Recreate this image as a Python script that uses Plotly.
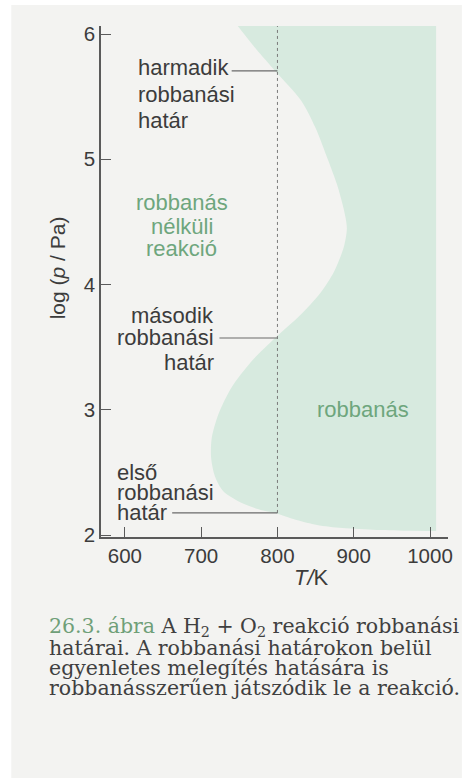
import plotly.graph_objects as go

# Explosion region of the H2 + O2 reaction: left boundary (T in K, log p/Pa), top to bottom
boundary_logp = [6.064, 5.88, 5.705, 5.47, 5.25, 5.0, 4.8, 4.6, 4.45, 4.3, 4.1,
                 3.93, 3.75, 3.573, 3.38, 3.18, 2.97, 2.78, 2.62, 2.47, 2.35,
                 2.26, 2.20, 2.176, 2.12, 2.08, 2.055, 2.04, 2.034, 2.032]
boundary_T = [748, 772, 797, 831, 850, 866, 878, 887, 891, 887, 874,
              856, 829, 797, 765, 740, 723, 714, 713, 718, 729,
              752, 778, 797, 825, 852, 885, 930, 975, 1008]
right_edge_T = [1008, 1008]
right_edge_logp = [6.064, 2.032]

# Explosion limits at T = 800 K
limit_T = 800
first_limit = 2.176
second_limit = 3.573
third_limit = 5.705

x_ticks = [600, 700, 800, 900, 1000]
y_ticks = [2, 3, 4, 5, 6]
x_range = [568.7, 1023.6]
y_range = [1.984, 6.064]

DARK = "#3c3c3c"
GREEN = "#6ea67d"
FILL = "#d7eadf"
LINE = "#5a5a5a"
SANS = "Liberation Sans, Arial, sans-serif"
SERIF = "DejaVu Serif, serif"

fig = go.Figure()

# right edge of the region (straight), then the curved boundary filled towards it
fig.add_trace(go.Scatter(x=right_edge_T, y=right_edge_logp, mode="lines",
                         line=dict(width=0, color=FILL), hoverinfo="skip"))
fig.add_trace(go.Scatter(x=boundary_T, y=boundary_logp, mode="lines",
                         line=dict(width=0, color=FILL, shape="spline", smoothing=0.8),
                         fill="tonextx", fillcolor=FILL, hoverinfo="skip"))

# dotted guide at 800 K
fig.add_trace(go.Scatter(x=[limit_T, limit_T], y=[first_limit, y_range[1]], mode="lines",
                         line=dict(color="#7a7a7a", width=1, dash="dot"), hoverinfo="skip"))

# leader lines from the labels to the three limits
leaders = [(740, third_limit), (724, second_limit), (662, first_limit)]
for x0, yv in leaders:
    fig.add_trace(go.Scatter(x=[x0, limit_T], y=[yv, yv], mode="lines",
                             line=dict(color="#6a6a6a", width=1.2), hoverinfo="skip"))

ann = []

def label(x, y, text, color=DARK, anchor="left", size=22):
    ann.append(dict(x=x, y=y, xref="x", yref="y", text=text, showarrow=False,
                    xanchor=anchor, yanchor="middle",
                    font=dict(family=SANS, size=size, color=color)))

for yv, t in zip([5.729, 5.521, 5.313], ["harmadik", "robbanási", "határ"]):
    label(614, yv, t)
for yv, t in zip([4.651, 4.467, 4.291], ["robbanás", "nélküli", "reakció"]):
    label(674.6, yv, t, color=GREEN, anchor="center")
for yv, t in zip([3.756, 3.573, 3.381], ["második", "robbanási", "határ"]):
    label(719, yv, t, anchor="right")
for yv, t in zip([2.503, 2.343, 2.176], ["első", "robbanási", "határ"]):
    label(587, yv, t)
label(912.4, 3.0, "robbanás", color=GREEN, anchor="center")

# axis titles
ann.append(dict(x=845, y=-0.080, xref="x", yref="paper", text="<i>T/</i>K",
                showarrow=False, xanchor="center", yanchor="middle",
                font=dict(family=SANS, size=22, color=DARK)))
ann.append(dict(x=-0.125, y=0.527, xref="paper", yref="paper",
                text="log (<i>p</i> / Pa)", textangle=-90, showarrow=False,
                xanchor="center", yanchor="middle",
                font=dict(family=SANS, size=21, color=DARK)))

# figure caption
caption = [
    '<span style="color:#6f9f78">26.3. ábra</span> A H<sub>2</sub> + O<sub>2</sub> reakció robbanási',
    "határai. A robbanási határokon belül",
    "egyenletes melegítés hatására is",
    "robbanásszerűen játszódik le a reakció.",
]
for yv, t in zip([-0.176, -0.217, -0.256, -0.295], caption):
    ann.append(dict(x=-0.156, y=yv, xref="paper", yref="paper", text=t,
                    showarrow=False, xanchor="left", yanchor="middle",
                    font=dict(family=SERIF, size=20.5, color="#404040")))

axis_common = dict(showline=True, linecolor=LINE, linewidth=1.5, ticks="inside",
                   ticklen=10, tickwidth=1.3, tickcolor=LINE, showgrid=False,
                   zeroline=False, tickfont=dict(family=SANS, size=20.5, color=DARK))

fig.update_layout(
    width=465, height=778,
    margin=dict(l=101, r=12, t=26, b=241),
    paper_bgcolor="#ffffff", plot_bgcolor="rgba(0,0,0,0)",
    showlegend=False,
    xaxis=dict(range=x_range, tickvals=x_ticks, **axis_common),
    yaxis=dict(range=y_range, tickvals=y_ticks, **axis_common),
    annotations=ann,
    shapes=[dict(type="rect", xref="paper", yref="paper",
                 x0=-0.2585, x1=1.04, y0=-0.48, y1=1.041,
                 fillcolor="#f3f3f1", line=dict(width=0), layer="below")],
)

fig.write_html("out.html")
